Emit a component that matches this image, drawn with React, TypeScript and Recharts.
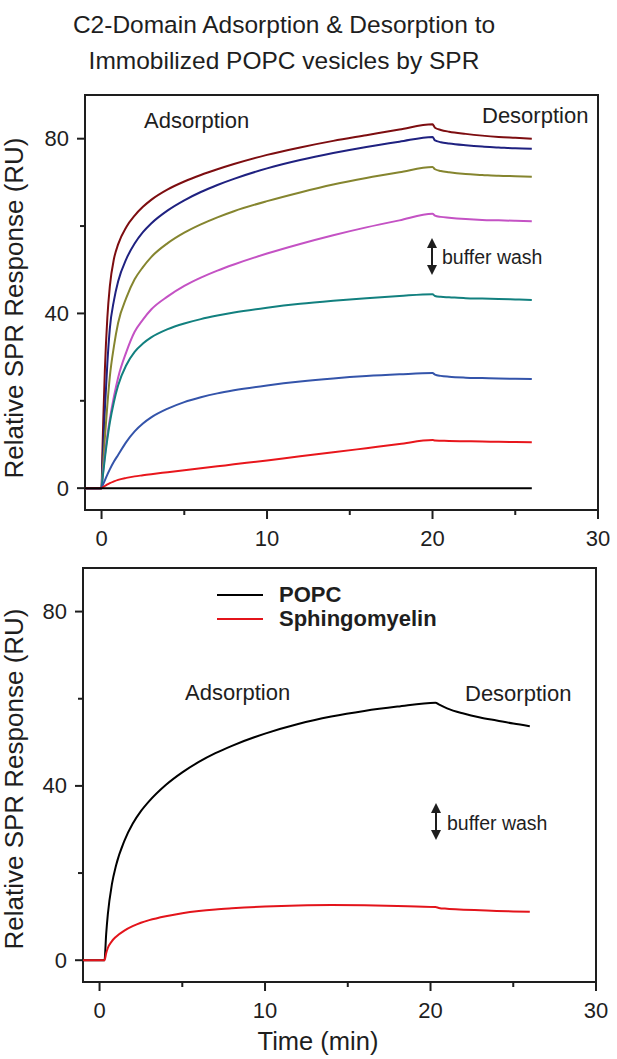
import React from 'react';
import { Legend, Line, LineChart, ReferenceArea, XAxis, YAxis } from 'recharts';

const FONT = '"Liberation Sans", Arial, Helvetica, sans-serif';
const INK = '#1e1e1e';

// top panel: several C2 concentrations on POPC (time in min, response in RU)
const TOP_TIMES = [-1, 0, 0.05, 0.1, 0.2, 0.35, 0.5, 0.75, 1, 1.5, 2, 2.5, 3, 4, 5, 6, 7, 8, 10, 12, 14, 16, 18, 20, 20.15, 20.5, 21, 22, 23, 24, 25, 26];
const DARK_RED = [0, 0, 8, 15, 27, 39.0, 46.2, 52.5, 55.8, 59.8, 62.4, 64.4, 66.0, 68.4, 70.2, 71.7, 73.0, 74.2, 76.3, 78.0, 79.5, 80.8, 82.1, 83.3, 82.5, 82.0, 81.6, 81.1, 80.7, 80.4, 80.2, 80.0];
const NAVY = [0, 0, 5, 9.5, 18, 28.5, 36.5, 43.0, 47.3, 52.5, 56.0, 58.6, 60.6, 63.6, 65.9, 67.8, 69.4, 70.8, 73.2, 75.1, 76.7, 78.1, 79.3, 80.4, 79.6, 79.2, 78.9, 78.5, 78.2, 78.0, 77.8, 77.7];
const OLIVE = [0, 0, 3, 6, 11.5, 19, 25.5, 32.5, 37.8, 43.6, 47.8, 50.6, 52.9, 56.1, 58.5, 60.4, 62.0, 63.4, 65.7, 67.7, 69.5, 71.0, 72.3, 73.5, 73.0, 72.6, 72.3, 71.9, 71.7, 71.5, 71.4, 71.3];
const MAGENTA = [0, 0, 2, 4, 7.5, 12, 15.8, 21, 25.3, 31.2, 35.8, 38.6, 40.9, 43.9, 46.3, 48.2, 49.8, 51.2, 53.7, 55.9, 57.9, 59.7, 61.3, 62.8, 62.4, 62.1, 61.9, 61.6, 61.4, 61.3, 61.2, 61.1];
const TEAL = [0, 0, 1.8, 3.5, 6.8, 11.2, 15.0, 19.8, 23.5, 28.2, 31.2, 33.1, 34.5, 36.4, 37.7, 38.7, 39.5, 40.2, 41.3, 42.2, 42.9, 43.5, 44.0, 44.4, 44.0, 43.8, 43.7, 43.5, 43.4, 43.3, 43.2, 43.1];
const BLUE = [0, 0, 0.45, 0.9, 1.8, 3.1, 4.3, 6.1, 7.6, 10.6, 13.0, 14.8, 16.2, 18.2, 19.7, 20.8, 21.7, 22.4, 23.5, 24.4, 25.1, 25.65, 26.05, 26.35, 26.0, 25.7, 25.5, 25.3, 25.2, 25.1, 25.05, 25.0];
const RED = [0, 0, 0.1, 0.25, 0.5, 0.85, 1.15, 1.55, 1.9, 2.35, 2.7, 2.95, 3.2, 3.65, 4.1, 4.55, 5.0, 5.45, 6.35, 7.3, 8.2, 9.15, 10.1, 11.0, 10.9, 10.85, 10.8, 10.75, 10.7, 10.6, 10.55, 10.5];
const BLACK = [0, 0, 0, 0, 0, 0, 0, 0, 0, 0, 0, 0, 0, 0, 0, 0, 0, 0, 0, 0, 0, 0, 0, 0, 0, 0, 0, 0, 0, 0, 0, 0];

// bottom panel: POPC vs sphingomyelin
const BOTTOM_TIMES = [-1, 0, 0.3, 0.4, 0.5, 0.75, 1, 1.5, 2, 2.5, 3, 4, 5, 6, 7, 8, 10, 12, 14, 16, 18, 20.3, 20.5, 21, 22, 23, 24, 25, 26];
const POPC = [0, 0, 0, 6, 10.5, 17.5, 21.8, 27.4, 31.3, 34.2, 36.5, 40.2, 43.1, 45.5, 47.5, 49.2, 52.0, 54.2, 55.9, 57.2, 58.2, 59.1, 58.7, 57.8, 56.6, 55.7, 55.0, 54.3, 53.7];
const SPHINGO = [0, 0, 0, 1.6, 2.8, 4.4, 5.4, 6.8, 7.8, 8.6, 9.2, 10.1, 10.8, 11.3, 11.65, 11.9, 12.3, 12.55, 12.65, 12.6, 12.45, 12.2, 12.0, 11.8, 11.6, 11.45, 11.3, 11.2, 11.1];

const X_TICKS = [0, 5, 10, 15, 20, 25, 30];
const Y_TICKS = [0, 20, 40, 60, 80];
const X_DOMAIN = [-1, 30];
const Y_DOMAIN = [-5, 90];

const TOP_SERIES = [
  { key: 'darkRed', values: DARK_RED, color: '#7d0d10' },
  { key: 'navy', values: NAVY, color: '#1f2180' },
  { key: 'olive', values: OLIVE, color: '#85852f' },
  { key: 'magenta', values: MAGENTA, color: '#c452c4' },
  { key: 'teal', values: TEAL, color: '#12807f' },
  { key: 'blue', values: BLUE, color: '#3454aa' },
  { key: 'red', values: RED, color: '#e8161c' },
  { key: 'black', values: BLACK, color: '#000000' },
];

const BOTTOM_SERIES = [
  { key: 'popc', name: 'POPC', values: POPC, color: '#000000' },
  { key: 'sm', name: 'Sphingomyelin', values: SPHINGO, color: '#e3141b' },
];

const topData = TOP_TIMES.map((t, i) => {
  const row: Record<string, number> = { t };
  TOP_SERIES.forEach((s) => (row[s.key] = s.values[i]));
  return row;
});

const bottomData = BOTTOM_TIMES.map((t, i) => {
  const row: Record<string, number> = { t };
  BOTTOM_SERIES.forEach((s) => (row[s.key] = s.values[i]));
  return row;
});

function XTick(props: any) {
  const { x, y, payload } = props;
  const major = payload.value % 10 === 0;
  return (
    <g>
      <line x1={x} x2={x} y1={y} y2={y + (major ? 9 : 5)} stroke={INK} strokeWidth={2} />
      {major ? (
        <text x={x} y={y + 28} textAnchor='middle' dominantBaseline='central' fontSize={22} fill={INK} fontFamily={FONT}>
          {payload.value}
        </text>
      ) : null}
    </g>
  );
}

function YTick(props: any) {
  const { x, y, payload } = props;
  const major = payload.value % 40 === 0;
  return (
    <g>
      <line x1={x} x2={x - (major ? 8 : 5)} y1={y} y2={y} stroke={INK} strokeWidth={2} />
      {major ? (
        <text x={x - 16} y={y} textAnchor='end' dominantBaseline='central' fontSize={22} fill={INK} fontFamily={FONT}>
          {payload.value}
        </text>
      ) : null}
    </g>
  );
}

function LegendBox({ payload }: { payload?: Array<{ value?: string; color?: string }> }) {
  return (
    <div style={{ fontFamily: FONT, fontWeight: 'bold', fontSize: 22, color: INK }}>
      {(payload ?? []).map((p) => (
        <div key={p.value} style={{ display: 'flex', alignItems: 'center', height: 24 }}>
          <svg width={46} height={4}>
            <line x1={0} x2={46} y1={2} y2={2} stroke={p.color} strokeWidth={2} />
          </svg>
          <span style={{ marginLeft: 16, lineHeight: '24px' }}>{p.value}</span>
        </div>
      ))}
    </div>
  );
}

function Arrow({ x, y1, y2 }: { x: number; y1: number; y2: number }) {
  return (
    <g fill={INK} stroke={INK}>
      <line x1={x} x2={x} y1={y1 + 6} y2={y2 - 6} strokeWidth={2} />
      <path d={`M${x},${y1} L${x - 5},${y1 + 10} L${x + 5},${y1 + 10} Z`} stroke='none' />
      <path d={`M${x},${y2} L${x - 5},${y2 - 10} L${x + 5},${y2 - 10} Z`} stroke='none' />
    </g>
  );
}

function Panel({ data, series, height, margin, children }: any) {
  return (
    <LineChart width={617} height={height} data={data} margin={margin} style={{ fontFamily: FONT }}>
      <XAxis
        dataKey='t'
        type='number'
        domain={X_DOMAIN}
        ticks={X_TICKS}
        allowDataOverflow
        axisLine={false}
        tickLine={false}
        tickSize={0}
        tickMargin={0}
        height={40}
        tick={<XTick />}
        interval={0}
      />
      <YAxis
        type='number'
        domain={Y_DOMAIN}
        ticks={Y_TICKS}
        allowDataOverflow
        axisLine={false}
        tickLine={false}
        tickSize={0}
        tickMargin={0}
        width={60}
        tick={<YTick />}
        interval={0}
      />
      <ReferenceArea x1={-1} x2={30} y1={-5} y2={90} fill='none' stroke={INK} strokeWidth={2} ifOverflow='visible' />
      {series.map((s: any) => (
        <Line
          key={s.key}
          dataKey={s.key}
          name={s.name}
          type='monotone'
          stroke={s.color}
          strokeWidth={2}
          dot={false}
          activeDot={false}
          isAnimationActive={false}
        />
      ))}
      {children}
    </LineChart>
  );
}

export default function App() {
  return (
    <div style={{ position: 'absolute', left: 0, top: 0, width: 617, height: 1059, background: '#fff' }}>
      <div style={{ position: 'absolute', left: 0, top: 0 }}>
        <Panel data={topData} series={TOP_SERIES} height={560} margin={{ top: 95, right: 19, bottom: 10, left: 25 }} />
      </div>
      <div style={{ position: 'absolute', left: 0, top: 540 }}>
        <Panel data={bottomData} series={BOTTOM_SERIES} height={519} margin={{ top: 28, right: 21, bottom: 37, left: 23 }}>
          <Legend
            layout='vertical'
            align='center'
            verticalAlign='middle'
            wrapperStyle={{ top: 43, left: 217, width: 260 }}
            content={<LegendBox />}
          />
        </Panel>
      </div>
      <svg
        width={617}
        height={1059}
        style={{ position: 'absolute', left: 0, top: 0, pointerEvents: 'none' }}
        fontFamily={FONT}
        fill={INK}
      >
        <text x={284} y={33} textAnchor='middle' fontSize={24.5}>
          C2-Domain Adsorption &amp; Desorption to
        </text>
        <text x={284} y={69} textAnchor='middle' fontSize={24.5}>
          Immobilized POPC vesicles by SPR
        </text>

        <text transform='translate(23,308) rotate(-90)' textAnchor='middle' fontSize={26}>
          Relative SPR Response (RU)
        </text>
        <text transform='translate(23,779) rotate(-90)' textAnchor='middle' fontSize={26}>
          Relative SPR Response (RU)
        </text>
        <text x={318} y={1050} textAnchor='middle' fontSize={25.5}>
          Time (min)
        </text>

        <text x={144} y={120} dominantBaseline='central' fontSize={22}>Adsorption</text>
        <text x={482} y={115} dominantBaseline='central' fontSize={22}>Desorption</text>
        <text x={442} y={257} dominantBaseline='central' fontSize={19.5}>buffer wash</text>
        <Arrow x={432} y1={238} y2={275} />

        <text x={185} y={692} dominantBaseline='central' fontSize={22}>Adsorption</text>
        <text x={465} y={693} dominantBaseline='central' fontSize={22}>Desorption</text>
        <text x={447} y={823} dominantBaseline='central' fontSize={19.5}>buffer wash</text>
        <Arrow x={436} y1={803} y2={840} />
      </svg>
    </div>
  );
}
